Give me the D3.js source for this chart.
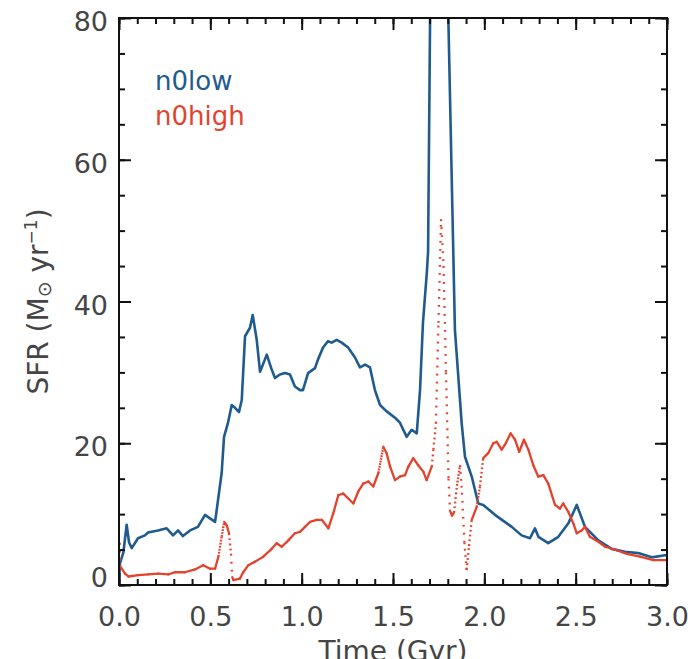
<!DOCTYPE html>
<html>
<head>
<meta charset="utf-8">
<script src="https://cdn.jsdelivr.net/npm/d3@7"></script>
<style>
  body { margin: 0; background: #fff; }
  svg { display: block; font-family: "DejaVu Sans", sans-serif; }
</style>
</head>
<body>
<div id="chart"></div>
<script>
// n0low run (solid blue)
const timeLow = [0.000, 0.005, 0.024, 0.042, 0.055, 0.070, 0.104, 0.142, 0.159, 0.213, 0.261, 0.296, 0.323, 0.350,
  0.389, 0.432, 0.471, 0.498, 0.526, 0.562, 0.575, 0.597, 0.617, 0.635, 0.657, 0.672, 0.690, 0.717, 0.732, 0.754,
  0.772, 0.788, 0.809, 0.836, 0.854, 0.881, 0.909, 0.936, 0.963, 0.991, 1.007, 1.035, 1.073, 1.089, 1.117, 1.144,
  1.164, 1.192, 1.219, 1.254, 1.292, 1.319, 1.347, 1.374, 1.401, 1.429, 1.465, 1.511, 1.538, 1.575, 1.602, 1.630,
  1.648, 1.664, 1.685, 1.692, 1.703, 1.720, 1.752, 1.785, 1.803, 1.839, 1.876, 1.894, 1.931, 1.967, 1.994, 2.058,
  2.150, 2.204, 2.250, 2.277, 2.296, 2.350, 2.405, 2.460, 2.506, 2.551, 2.624, 2.697, 2.770, 2.843, 2.916, 2.989, 3.000];
const sfrLow = [0.0, 3.0, 4.6, 8.5, 6.0, 5.2, 6.6, 7.0, 7.4, 7.7, 8.0, 7.0, 7.7, 6.9,
  7.7, 8.2, 9.9, 9.4, 8.9, 15.8, 20.9, 22.9, 25.4, 25.0, 24.4, 26.1, 35.1, 36.3, 38.1, 34.6,
  30.1, 31.1, 32.5, 30.4, 29.2, 29.7, 29.9, 29.7, 28.0, 27.5, 27.5, 29.9, 30.6, 31.8, 33.5, 34.4,
  34.2, 34.6, 34.2, 33.5, 32.1, 30.7, 31.1, 30.7, 27.5, 25.4, 24.5, 23.6, 22.9, 20.9, 21.9, 21.4,
  27.5, 37.0, 44.0, 47.0, 80.0, 105.0, 120.0, 100.0, 80.0, 36.0, 22.8, 18.1, 15.3, 11.5, 11.3, 9.9,
  8.2, 7.0, 6.6, 8.0, 6.8, 5.9, 6.8, 8.7, 11.3, 8.2, 6.3, 5.1, 4.7, 4.5, 3.9, 4.2, 4.2];

// n0high run (red, plotted as dots)
const timeHigh = [0.000, 0.003, 0.008, 0.033, 0.051, 0.106, 0.160, 0.215, 0.270, 0.307, 0.361, 0.416, 0.461, 0.498,
  0.526, 0.544, 0.562, 0.576, 0.590, 0.602, 0.613, 0.620, 0.626, 0.662, 0.680, 0.708, 0.745, 0.790, 0.836, 0.863,
  0.891, 0.927, 0.963, 0.991, 1.018, 1.046, 1.082, 1.110, 1.146, 1.173, 1.201, 1.228, 1.255, 1.283, 1.310, 1.337,
  1.365, 1.392, 1.420, 1.447, 1.465, 1.484, 1.511, 1.538, 1.566, 1.584, 1.611, 1.638, 1.666, 1.684, 1.712, 1.721,
  1.735, 1.749, 1.763, 1.777, 1.790, 1.804, 1.812, 1.823, 1.834, 1.850, 1.867, 1.878, 1.891, 1.903, 1.916, 1.931,
  1.958, 1.976, 1.994, 2.021, 2.049, 2.068, 2.095, 2.113, 2.144, 2.168, 2.191, 2.217, 2.241, 2.268, 2.295, 2.323,
  2.350, 2.387, 2.414, 2.432, 2.460, 2.487, 2.506, 2.533, 2.551, 2.578, 2.624, 2.662, 2.725, 2.779, 2.852, 2.925, 2.998];
const sfrHigh = [0.0, 6.0, 2.6, 1.6, 1.2, 1.4, 1.5, 1.6, 1.5, 1.8, 1.8, 2.2, 2.8, 2.3,
  2.3, 4.0, 6.8, 8.9, 8.4, 7.3, 4.4, 1.1, 0.7, 0.9, 1.8, 2.8, 3.3, 4.0, 5.1, 5.9,
  5.4, 6.3, 7.3, 7.5, 8.2, 8.9, 9.2, 9.2, 8.0, 10.1, 12.7, 12.9, 12.2, 11.5, 13.2, 14.3,
  14.6, 13.9, 15.8, 19.5, 18.6, 16.7, 14.8, 15.3, 15.5, 16.7, 17.9, 16.9, 16.0, 14.8, 16.7, 19.1,
  22.8, 37.0, 51.6, 45.0, 30.0, 15.0, 10.5, 9.8, 10.2, 14.0, 16.9, 13.0, 6.0, 2.1, 5.5, 9.2,
  11.0, 13.9, 17.9, 18.6, 20.0, 20.2, 19.1, 19.8, 21.4, 20.5, 18.8, 20.5, 19.1, 16.9, 15.3, 15.5,
  14.3, 11.3, 10.8, 11.5, 10.3, 8.7, 7.3, 7.7, 8.2, 6.8, 6.1, 5.4, 4.9, 4.4, 4.0, 3.5, 3.5];

const seriesNames = ['n0low', 'n0high'];
const seriesColors = ['#1f5b8e', '#e3432d'];

const xTicks = [0, 0.5, 1, 1.5, 2, 2.5, 3];
const xMinorTicks = d3.range(0, 31).map(i => i / 10);
const yTicks = [0, 20, 40, 60, 80];
const yMinorTicks = d3.range(0, 17).map(i => i * 5);

const W = 690, H = 659;
const plotLeft = 119, plotRight = 667, plotTop = 18, plotBottom = 585;
const textColor = '#454545';

const svg = d3.select('#chart').append('svg')
  .attr('width', W)
  .attr('height', H);

const x = d3.scaleLinear().domain([0, 3]).range([plotLeft, plotRight]);
const y = d3.scaleLinear().domain([0, 80]).range([plotBottom, plotTop]);

svg.append('clipPath').attr('id', 'plot-clip')
  .append('rect')
  .attr('x', plotLeft).attr('y', plotTop)
  .attr('width', plotRight - plotLeft).attr('height', plotBottom - plotTop);

// curves
const plot = svg.append('g').attr('clip-path', 'url(#plot-clip)');

const line = d3.line().x((d, i) => x(timeLow[i])).y(d => y(d));
plot.append('path')
  .datum(sfrLow)
  .attr('d', line)
  .attr('fill', 'none')
  .attr('stroke', seriesColors[0])
  .attr('stroke-width', 2.6)
  .attr('stroke-linejoin', 'round');

// red run was plotted as dense dots: solid where flat, gappy where steep
const redPts = timeHigh.map((t, i) => [x(t), y(sfrHigh[i])]);
plot.selectAll('.seg')
  .data(d3.pairs(redPts))
  .enter()
  .append('line')
  .attr('class', 'seg')
  .attr('x1', d => d[0][0])
  .attr('y1', d => d[0][1])
  .attr('x2', d => d[1][0])
  .attr('y2', d => d[1][1])
  .attr('stroke', seriesColors[1])
  .attr('stroke-width', 2.3)
  .each(function(d) {
    const dx = Math.abs(d[1][0] - d[0][0]);
    const len = Math.hypot(dx, d[1][1] - d[0][1]);
    const step = Math.min(8, len / Math.max(1, dx / 0.5));
    const el = d3.select(this);
    if (step < 2.6) {
      el.attr('stroke-linecap', 'round');
    } else {
      el.attr('stroke-dasharray', `1.8 ${step - 1.8}`);
    }
  });

// axes with inward ticks on all four sides
function styleAxis(g) {
  g.select('.domain').remove();
  g.selectAll('.tick line').attr('stroke', '#111').attr('stroke-width', 2);
  g.selectAll('.tick text')
    .attr('fill', textColor)
    .style('font-size', '27px')
    .style('font-family', '"DejaVu Sans", sans-serif');
}

const axes = svg.append('g');

axes.append('g')
  .attr('transform', `translate(0,${plotBottom})`)
  .call(d3.axisBottom(x).tickValues(xMinorTicks).tickSize(-6).tickFormat(''))
  .call(styleAxis);
axes.append('g')
  .attr('transform', `translate(0,${plotBottom})`)
  .call(d3.axisBottom(x).tickValues(xTicks).tickSize(-12).tickPadding(22).tickFormat(d3.format('.1f')))
  .call(styleAxis);

axes.append('g')
  .attr('transform', `translate(0,${plotTop})`)
  .call(d3.axisTop(x).tickValues(xMinorTicks).tickSize(-6).tickFormat(''))
  .call(styleAxis);
axes.append('g')
  .attr('transform', `translate(0,${plotTop})`)
  .call(d3.axisTop(x).tickValues(xTicks).tickSize(-12).tickFormat(''))
  .call(styleAxis);

axes.append('g')
  .attr('transform', `translate(${plotLeft},0)`)
  .call(d3.axisLeft(y).tickValues(yMinorTicks).tickSize(-6).tickFormat(''))
  .call(styleAxis);
axes.append('g')
  .attr('transform', `translate(${plotLeft},0)`)
  .call(d3.axisLeft(y).tickValues(yTicks).tickSize(-12).tickPadding(11).tickFormat(d3.format('d')))
  .call(styleAxis)
  .selectAll('.tick text')
  .attr('dy', d => d === 0 ? '0.06em' : '0.47em');

axes.append('g')
  .attr('transform', `translate(${plotRight},0)`)
  .call(d3.axisRight(y).tickValues(yMinorTicks).tickSize(-6).tickFormat(''))
  .call(styleAxis);
axes.append('g')
  .attr('transform', `translate(${plotRight},0)`)
  .call(d3.axisRight(y).tickValues(yTicks).tickSize(-12).tickFormat(''))
  .call(styleAxis);

// frame
svg.append('rect')
  .attr('x', plotLeft).attr('y', plotTop)
  .attr('width', plotRight - plotLeft).attr('height', plotBottom - plotTop)
  .attr('fill', 'none')
  .attr('stroke', '#111')
  .attr('stroke-width', 2);

// axis titles (x title is cut by the bottom edge, as in the original)
svg.append('text')
  .attr('x', (plotLeft + plotRight) / 2)
  .attr('y', 661)
  .attr('text-anchor', 'middle')
  .attr('fill', textColor)
  .style('font-size', '28px')
  .text('Time (Gyr)');

const yTitle = svg.append('text')
  .attr('transform', `translate(48,${(plotTop + plotBottom) / 2}) rotate(-90)`)
  .attr('text-anchor', 'middle')
  .attr('fill', textColor)
  .style('font-size', '28px');
yTitle.append('tspan').text('SFR (M');
yTitle.append('tspan').style('font-size', '19px').attr('dy', 3).text('\u2299');
yTitle.append('tspan').attr('dy', -3).text(' yr');
yTitle.append('tspan').style('font-size', '17px').attr('dy', -11).text('\u22121');
yTitle.append('tspan').attr('dy', 11).text(')');

// legend
svg.selectAll('.legend')
  .data(seriesNames)
  .enter()
  .append('text')
  .attr('class', 'legend')
  .attr('x', 155)
  .attr('y', (d, i) => 90 + i * 35)
  .attr('fill', (d, i) => seriesColors[i])
  .style('font-size', '26px')
  .text(d => d);
</script>
</body>
</html>
